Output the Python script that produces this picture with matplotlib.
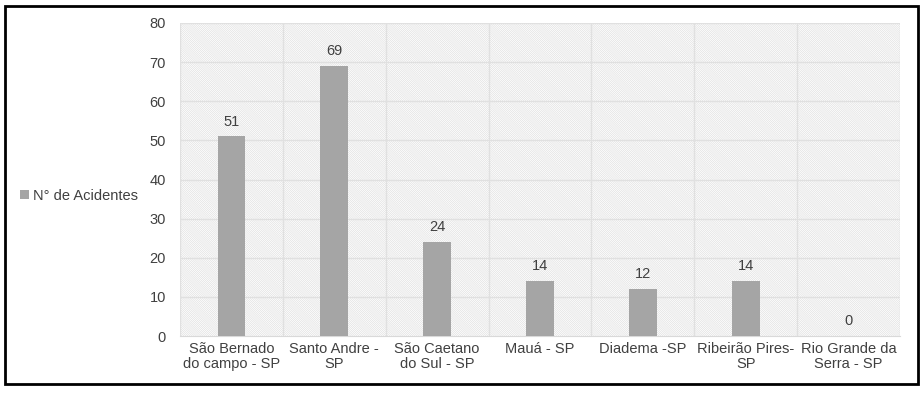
import matplotlib.pyplot as plt
from matplotlib.patches import Rectangle

plt.rcParams['font.family'] = ['Liberation Sans', 'DejaVu Sans']
plt.rcParams['hatch.color'] = '#dedede'
plt.rcParams['hatch.linewidth'] = 0.45

cidades = ['São Bernado\ndo campo - SP', 'Santo Andre -\nSP', 'São Caetano\ndo Sul - SP',
           'Mauá - SP', 'Diadema -SP', 'Ribeirão Pires-\nSP', 'Rio Grande da\nSerra - SP']
acidentes = [51, 69, 24, 14, 12, 14, 0]
yticks = [0, 10, 20, 30, 40, 50, 60, 70, 80]

fig = plt.figure(figsize=(9.24, 3.94), dpi=100)
ax = fig.add_axes([180/924, 1 - 336/394, 720/924, 313/394])

# fundo hachurado da area do grafico
ax.add_patch(Rectangle((0, 0), 1, 1, transform=ax.transAxes, facecolor='white',
                       hatch='\\' * 16, edgecolor='#dedede', linewidth=0, zorder=0))

x = list(range(len(cidades)))
ax.bar(x, acidentes, width=0.27, color='#a5a5a5', zorder=3, label='N° de Acidentes')
for xi, v in zip(x, acidentes):
    ax.text(xi, v + 2.0, str(v), ha='center', va='bottom', fontsize=10.5, color='#404040', zorder=4)

ax.set_xlim(-0.5, len(cidades) - 0.5)
ax.set_ylim(0, 80)
ax.set_yticks(yticks)
ax.set_xticks(x)
ax.set_xticklabels(cidades, fontsize=10.5, color='#404040', linespacing=1.1)
ax.tick_params(axis='y', labelsize=10.5, labelcolor='#404040', length=0, pad=10)
ax.tick_params(axis='x', length=0, pad=4)

for yv in yticks[1:]:
    ax.axhline(yv, color='#e0e0e0', linewidth=1, zorder=1)
for b in range(0, len(cidades) + 1):
    ax.axvline(b - 0.5, color='#e0e0e0', linewidth=1, zorder=1)
for s in ['top', 'right', 'left']:
    ax.spines[s].set_visible(False)
ax.spines['bottom'].set_color('#d9d9d9')

fig.legend(loc='center left', bbox_to_anchor=(20/924, 1 - 196/394), frameon=False,
           fontsize=10.5, labelcolor='#404040', handlelength=0.6, handleheight=0.6,
           handletextpad=0.3, borderaxespad=0, borderpad=0)

# borda externa
fig.add_artist(Rectangle((5/924, 1 - 384/394), 913/924, 378/394, transform=fig.transFigure,
                         fill=False, edgecolor='black', linewidth=2))

fig.savefig('out.png', dpi=100)
